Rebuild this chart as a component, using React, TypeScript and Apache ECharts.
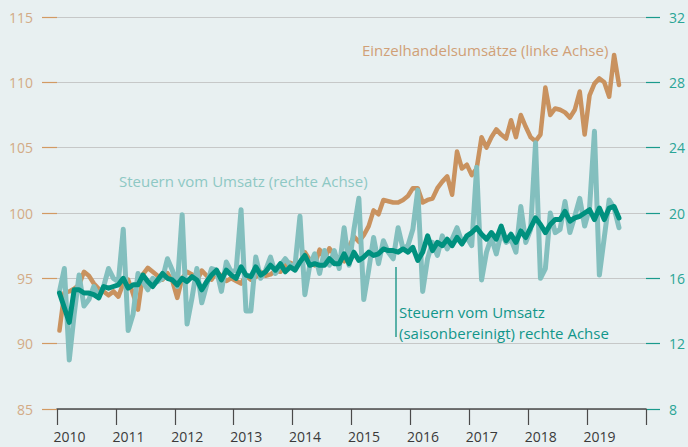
import React, { useEffect, useRef } from "react";
import * as echarts from "echarts";

const yearLabels = ["2010", "2011", "2012", "2013", "2014", "2015", "2016", "2017", "2018", "2019"];

// Einzelhandelsumsätze (linke Achse), monthly from Jan 2010
const retail = [
  91.0, 93.9, 94.0, 94.2, 94.5, 95.5, 95.2, 94.6, 94.2, 94.0, 93.7, 94.0,
  93.6, 94.6, 94.9, 93.8, 92.6, 95.3, 95.8, 95.5, 95.2, 94.9, 95.4, 94.8,
  93.5, 95.0, 95.5, 95.3, 94.8, 95.6, 95.2, 94.9, 95.5, 95.2, 94.8, 95.0,
  94.8, 94.6, 95.2, 94.9, 95.1, 95.5, 95.2, 95.3, 95.6, 95.5, 96.0, 96.2,
  96.0, 96.2, 97.0, 96.4, 96.0, 97.2, 96.5, 97.3, 96.8, 96.5, 96.3, 97.4,
  98.2, 97.8, 98.3, 99.0, 100.2, 99.9, 101.0, 100.9, 100.8, 100.8, 101.0, 101.3,
  101.9, 101.9, 100.8, 101.0, 101.1, 101.9, 102.4, 102.8, 101.4, 104.7, 103.4, 103.7,
  102.9, 103.4, 105.8, 105.0, 105.8, 106.4, 106.0, 105.7, 107.1, 105.8, 107.5, 106.6,
  105.8, 105.5, 106.0, 109.6, 107.5, 108.0, 107.9, 107.7, 107.3, 107.9, 109.3, 106.0,
  109.0, 109.9, 110.3, 110.0, 108.9, 112.1, 109.8,
];

// Steuern vom Umsatz (rechte Achse)
const vatRaw = [
  15.2, 16.6, 11.0, 13.8, 16.2, 14.3, 14.7, 15.5, 14.9, 15.5, 16.6, 16.0,
  15.8, 19.0, 12.8, 13.8, 16.3, 15.8, 15.3, 16.0, 15.8, 16.0, 17.2, 16.5,
  15.5, 19.9, 13.2, 14.8, 16.6, 14.5, 15.6, 16.6, 16.5, 15.2, 17.0, 16.4,
  16.5, 20.2, 14.0, 14.0, 17.3, 16.0, 16.5, 17.3, 16.3, 16.8, 17.2, 16.8,
  16.8, 19.8, 15.0, 16.8, 17.5, 16.3, 17.7, 16.8, 17.7, 16.6, 19.1, 16.8,
  19.0, 20.9, 14.7, 16.5, 18.5, 16.9, 18.3, 17.6, 17.2, 19.1, 17.8, 18.0,
  19.0, 21.4, 15.2, 17.2, 18.2, 17.4, 18.6, 17.8, 18.4, 19.1, 18.2, 18.5,
  18.0, 22.8, 15.9, 17.6, 18.5, 17.5, 18.8, 18.2, 18.4, 17.6, 20.4, 18.2,
  19.0, 24.3, 16.0, 16.6, 20.0, 18.8, 19.0, 20.7, 18.8, 19.8, 20.9, 19.2,
  20.3, 25.0, 16.2, 18.5, 20.8, 20.3, 19.1,
];

// Steuern vom Umsatz (saisonbereinigt), rechte Achse
const vatSA = [
  15.1, 14.2, 13.3, 15.3, 15.3, 15.1, 15.1, 15.0, 14.8, 15.5, 15.4, 15.5,
  15.6, 16.0, 15.4, 15.6, 15.6, 16.2, 15.8, 15.5, 15.9, 16.3, 16.0, 15.9,
  15.6, 16.0, 15.8, 16.1, 15.9, 15.3, 15.8, 16.2, 16.5, 15.9, 16.5, 16.2,
  16.0, 16.7, 16.2, 16.1, 16.7, 16.2, 16.4, 16.8, 16.5, 16.9, 16.4, 16.7,
  16.5, 17.0, 17.4, 16.8, 16.9, 16.8, 16.8, 17.2, 16.9, 16.9, 17.5, 16.9,
  17.6, 17.1, 17.3, 17.6, 17.4, 17.5, 17.8, 17.7, 17.7, 17.6, 17.8, 17.6,
  17.9, 17.1, 17.6, 18.6, 17.7, 18.2, 18.0, 18.4, 18.0, 18.5, 18.1, 18.6,
  18.8, 19.1, 18.7, 18.4, 18.8, 18.4, 19.2, 18.3, 18.7, 18.2, 18.9, 18.5,
  19.1, 19.7, 19.3, 18.8, 19.3, 19.6, 19.6, 20.1, 19.5, 19.7, 19.8, 20.0,
  20.2, 19.6, 20.3, 19.6, 20.3, 20.4, 19.7,
];

const ORANGE = "#c9925f";
const LIGHT_TEAL = "#83bfbe";
const DARK_TEAL = "#00917f";
const FONT = "'Open Sans', sans-serif";

const toXY = (arr: number[]) => arr.map((v, i) => [i + 0.5, v]);

export default function App() {
  const ref = useRef<HTMLDivElement>(null);
  useEffect(() => {
    if (!ref.current) return;
    const chart = echarts.init(ref.current, undefined, { renderer: "svg" });
    chart.setOption({
      animation: false,
      backgroundColor: "#e8f0f1",
      grid: { left: 57, right: 40, top: 17, bottom: 38, containLabel: false },
      xAxis: {
        type: "value",
        min: 0,
        max: 120,
        interval: 12,
        axisLine: { show: true, lineStyle: { color: "#4a4a4a", width: 1.5 } },
        axisTick: { show: true, length: 16, lineStyle: { color: "#4a4a4a", width: 1.2 } },
        splitLine: { show: false },
        axisLabel: {
          color: "#3a3a3a",
          fontSize: 14,
          fontFamily: FONT,
          margin: 20,
          padding: [0, 0, 0, 25],
          formatter: (v: number) => yearLabels[Math.round(v / 12)] ?? "",
        },
      },
      yAxis: [
        {
          type: "value",
          min: 85,
          max: 115,
          interval: 5,
          position: "left",
          axisLine: { show: false },
          axisTick: { show: true, length: 15, lineStyle: { color: "#d29a63", width: 1.2 } },
          axisLabel: { color: "#d3ab86", fontSize: 14, fontFamily: FONT, margin: 24 },
          splitLine: { show: true, lineStyle: { color: "#c6c8c8", width: 1 } },
        },
        {
          type: "value",
          min: 8,
          max: 32,
          interval: 4,
          position: "right",
          axisLine: { show: false },
          axisTick: { show: true, length: 14, lineStyle: { color: "#1a9a8c", width: 1.2 } },
          axisLabel: { color: "#2aa596", fontSize: 14, fontFamily: FONT, margin: 23 },
          splitLine: { show: false },
        },
      ],
      series: [
        {
          type: "line",
          name: "Einzelhandelsumsätze",
          yAxisIndex: 0,
          data: toXY(retail),
          showSymbol: false,
          lineStyle: { color: ORANGE, width: 4.5, cap: "round", join: "round" },
          z: 2,
        },
        {
          type: "line",
          name: "Steuern vom Umsatz",
          yAxisIndex: 1,
          data: toXY(vatRaw),
          showSymbol: false,
          lineStyle: { color: LIGHT_TEAL, width: 5, cap: "round", join: "round" },
          z: 3,
        },
        {
          type: "line",
          name: "Steuern vom Umsatz (saisonbereinigt)",
          yAxisIndex: 1,
          data: toXY(vatSA),
          showSymbol: false,
          lineStyle: { color: DARK_TEAL, width: 5, cap: "round", join: "round" },
          z: 4,
        },
      ],
      graphic: [
        {
          type: "text",
          left: 362,
          top: 42,
          style: { text: "Einzelhandelsumsätze (linke Achse)", fill: "#d0a077", font: `15px ${FONT}` },
        },
        {
          type: "text",
          left: 119,
          top: 173,
          style: { text: "Steuern vom Umsatz (rechte Achse)", fill: "#8ec8c4", font: `15px ${FONT}` },
        },
        {
          type: "line",
          shape: { x1: 396, y1: 267, x2: 396, y2: 337 },
          style: { stroke: "#2a9d8f", lineWidth: 1.5 },
          z: 10,
        },
        {
          type: "text",
          left: 399,
          top: 301,
          style: {
            text: "Steuern vom Umsatz\n(saisonbereinigt) rechte Achse",
            fill: "#12968a",
            font: `15px ${FONT}`,
            lineHeight: 21,
          },
        },
      ],
    });
    return () => chart.dispose();
  }, []);
  return <div ref={ref} style={{ position: "fixed", left: 0, top: 0, width: 688, height: 447 }} />;
}
